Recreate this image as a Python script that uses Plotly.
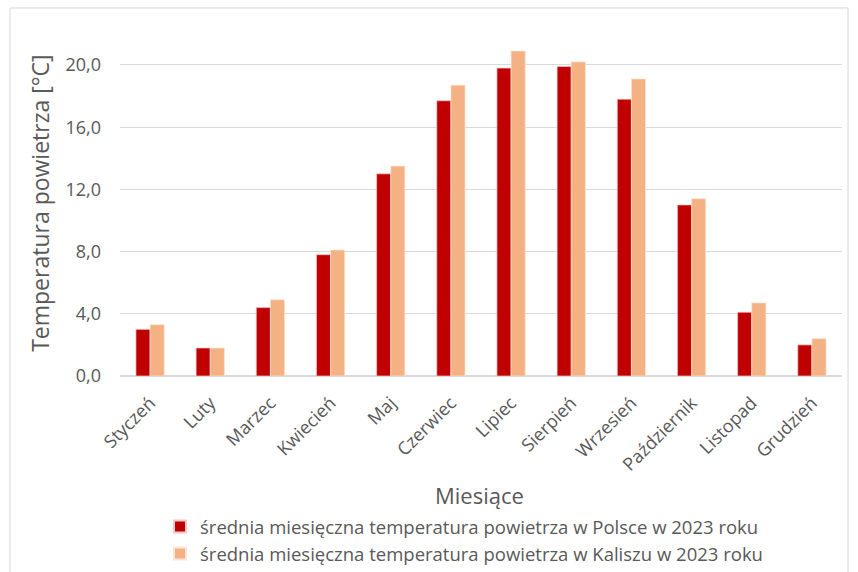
import plotly.graph_objects as go

months = ["Styczeń", "Luty", "Marzec", "Kwiecień", "Maj", "Czerwiec", "Lipiec",
          "Sierpień", "Wrzesień", "Październik", "Listopad", "Grudzień"]
polska = [3.0, 1.8, 4.4, 7.8, 13.0, 17.7, 19.8, 19.9, 17.8, 11.0, 4.1, 2.0]
kalisz = [3.3, 1.8, 4.9, 8.1, 13.5, 18.7, 20.9, 20.2, 19.1, 11.4, 4.7, 2.4]
name_pl = "średnia miesięczna temperatura powietrza w Polsce w 2023 roku"
name_ka = "średnia miesięczna temperatura powietrza w Kaliszu w 2023 roku"
y_ticks = [0, 4, 8, 12, 16, 20]

FONT = "Open Sans"
GRAY = "#595959"

fig = go.Figure()
fig.add_trace(go.Bar(x=months, y=polska, name=name_pl, marker=dict(color="#C00000", line=dict(color="#F2C9C9", width=0.7))))
fig.add_trace(go.Bar(x=months, y=kalisz, name=name_ka, marker=dict(color="#F4B183", line=dict(color="#FBE5D6", width=0.7))))

fig.update_layout(
    width=858, height=572,
    margin=dict(l=120, r=16, t=30, b=196),
    paper_bgcolor="white", plot_bgcolor="white",
    barmode="group", bargap=0.53, bargroupgap=0,
    separators=", ",
    font=dict(family=FONT, color=GRAY, size=15),
    showlegend=True,
    legend=dict(orientation="v", xref="paper", yref="container",
                x=0.0554, xanchor="left", y=0.112, yanchor="top",
                font=dict(size=18.5, color=GRAY, family=FONT), itemsizing="constant",
                tracegroupgap=0, itemwidth=30, bgcolor="rgba(0,0,0,0)"),
    xaxis=dict(tickangle=-45, tickfont=dict(size=18, color=GRAY), showgrid=False,
               showline=False, ticks="", automargin=False),
    yaxis=dict(range=[0, 22.25], tickvals=y_ticks, tickformat=".1f",
               tickfont=dict(size=18, color=GRAY), gridcolor="#D9D9D9", gridwidth=1,
               zeroline=True, zerolinecolor="#D9D9D9", zerolinewidth=1.5,
               showline=False, ticks="", ticklen=0, automargin=False),
)
fig.update_yaxes(ticklabelstandoff=18)
fig.update_xaxes(ticklabelstandoff=12)

fig.add_annotation(text="Temperatura powietrza [°C]", xref="paper", yref="paper",
                   x=-0.111, y=0.5, textangle=-90, showarrow=False,
                   font=dict(size=23, color=GRAY, family=FONT), xanchor="center", yanchor="middle")
fig.add_annotation(text="Miesiące", xref="paper", yref="paper",
                   x=0.4985, y=-0.345, showarrow=False, borderpad=0,
                   font=dict(size=22, color=GRAY, family=FONT), xanchor="center", yanchor="middle")
fig.add_shape(type="rect", xref="paper", yref="paper", x0=-0.1524, x1=1.0083, y0=-0.7, y1=1.0636,
              line=dict(color="#D9D9D9", width=1), fillcolor="rgba(0,0,0,0)", layer="below")

fig.write_html("out.html")
